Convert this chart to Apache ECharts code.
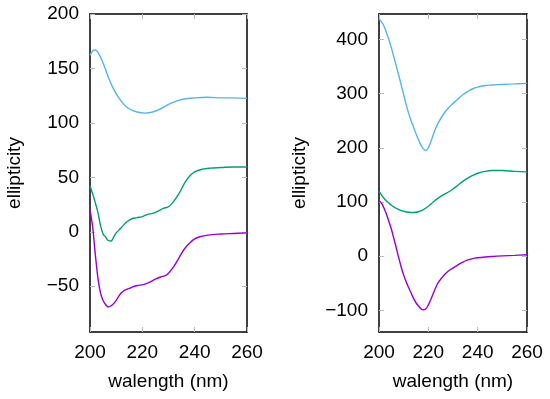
<!DOCTYPE html>
<html>
<head>
<meta charset="utf-8">
<script src="https://cdn.jsdelivr.net/npm/echarts@6/dist/echarts.min.js"></script>
<style>html,body{margin:0;padding:0;background:#fff}#c{width:550px;height:399px}</style>
</head>
<body>
<div id="c"></div>
<script>
// ---- Data ----
const xTicks = [200, 220, 240, 260];
const leftYTicks = [-50, 0, 50, 100, 150, 200];
const rightYTicks = [-100, 0, 100, 200, 300, 400];

// Left panel
const lBlueX = [200,201,202,203,205,207,209,211,213,215,218,221,224,227,230,233,236,240,245,250,255,260];
const lBlueY = [162,166,167,165,155,142,131,123,117,113,110,109,110,113,117,120,122,123,123.5,123,123,122.5];
const lGreenX = [200,201,202,203,204,205,206,207,208,209,210,212,214,216,218,220,222,224,226,228,230,232,234,236,238,240,243,246,250,255,260];
const lGreenY = [42,35,27,18,6,-2,-5,-8,-8.5,-5,-1,4,9,12,13,14,16,17,19,21.5,23,28,35,44,51,55,57.5,58.5,59,59.5,59.5];
const lPurpleX = [200,201,202,203,204,205,206,207,208,209,210,211,212,213,215,217,219,221,223,225,227,229,230,232,234,236,238,240,242,245,250,255,260];
const lPurpleY = [20,5,-20,-42,-56,-63,-67,-69,-68,-66,-63,-59,-56,-54,-52,-50,-49,-48,-46,-43.5,-41.5,-40,-38,-32,-24,-16,-10.5,-6.5,-4.5,-3,-2,-1.5,-1];

// Right panel
const rBlueX = [200,201,202,203,204,205,206,207,208,209,210,211,212,213,214,215,216,217,218,219,220,221,222,223,224,226,228,230,232,234,236,238,240,243,246,250,255,260];
const rBlueY = [437,433,425,413,400,385,368,351,334,316,298,280,264,250,238,226,215,205,198,195,200,211,224,236,246,261,273,282,290,298,304,309,312,315,316,317,318,319];
const rGreenX = [200,201,202,203,204,205,206,207,208,210,212,214,216,218,220,222,224,226,228,230,232,234,236,238,240,243,246,250,255,260];
const rGreenY = [120,113,107,102,98,94,91,88,86,83,81,80.5,82,86,92,100,107,113,118,124,131,138,144,149,153,156.5,158,158,156.5,155.5];
const rPurpleX = [200,201,202,203,204,205,206,207,208,209,210,211,212,213,214,215,216,217,218,219,220,221,222,223,224,226,228,230,232,234,236,238,240,243,246,250,255,260];
const rPurpleY = [102,98,89,78,64,50,33,15,-3,-20,-35,-47,-58,-68,-78,-86,-92,-97,-99,-97,-90,-80,-69,-58,-49,-37,-28,-22,-16,-11,-7,-4.5,-3,-1.5,-0.5,0.5,1.5,2.5];

const colPurple = '#9400d3', colGreen = '#009e73', colBlue = '#56b4e9';
const FONT = 'Liberation Sans';
const FS = 19;

function zip(xs, ys) { return xs.map((x, i) => [x, ys[i]]); }

const tickStyle = { show: true, inside: true, length: 5, lineStyle: { color: '#bbbbbb', width: 1 } };
const lineStyleAx = { show: true, onZero: false, lineStyle: { color: '#000', width: 1.5 } };
const labelStyle = { color: '#000', fontFamily: FONT, fontSize: FS };

function xAxes(gi) {
  return [
    { type: 'value', gridIndex: gi, position: 'bottom', min: 200, max: 260,
      axisLine: lineStyleAx, splitLine: { show: false },
      axisTick: Object.assign({}, tickStyle, { customValues: xTicks }),
      axisLabel: Object.assign({}, labelStyle, { customValues: xTicks, margin: 11 }),
      name: 'walength (nm)', nameLocation: 'middle', nameGap: 40,
      nameTextStyle: { color: '#000', fontFamily: FONT, fontSize: FS } },
    { type: 'value', gridIndex: gi, position: 'top', min: 200, max: 260,
      axisLine: lineStyleAx, splitLine: { show: false },
      axisTick: Object.assign({}, tickStyle, { customValues: xTicks }),
      axisLabel: { show: false } }
  ];
}
function yAxes(gi, min, max, ticks, gap) {
  return [
    { type: 'value', gridIndex: gi, position: 'left', min: min, max: max,
      axisLine: lineStyleAx, splitLine: { show: false },
      axisTick: Object.assign({}, tickStyle, { customValues: ticks }),
      axisLabel: Object.assign({}, labelStyle, { customValues: ticks, margin: 11,
        formatter: v => (v < 0 ? '\u2212' + Math.abs(v) : String(v)) }),
      name: 'ellipticity', nameLocation: 'middle', nameGap: gap, nameRotate: 90,
      nameTextStyle: { color: '#000', fontFamily: FONT, fontSize: FS } },
    { type: 'value', gridIndex: gi, position: 'right', min: min, max: max,
      axisLine: lineStyleAx, splitLine: { show: false },
      axisTick: Object.assign({}, tickStyle, { customValues: ticks }),
      axisLabel: { show: false } }
  ];
}

function ser(xi, yi, xs, ys, color) {
  return { type: 'line', xAxisIndex: xi, yAxisIndex: yi, data: zip(xs, ys),
    smooth: 0.4, showSymbol: false, symbol: 'none', clip: true,
    lineStyle: { color: color, width: 1.4 }, itemStyle: { color: color } };
}

const chart = echarts.init(document.getElementById('c'), null, { renderer: 'canvas' });
chart.setOption({
  animation: false,
  backgroundColor: '#fff',
  grid: [
    { left: 90, top: 14, width: 157, height: 318 },
    { left: 379, top: 14, width: 148, height: 318 }
  ],
  xAxis: [...xAxes(0), ...xAxes(1)],
  yAxis: [...yAxes(0, -92, 200, leftYTicks, 66), ...yAxes(1, -140, 447, rightYTicks, 70)],
  series: [
    ser(0, 0, lBlueX, lBlueY, colBlue),
    ser(0, 0, lGreenX, lGreenY, colGreen),
    ser(0, 0, lPurpleX, lPurpleY, colPurple),
    ser(2, 2, rBlueX, rBlueY, colBlue),
    ser(2, 2, rGreenX, rGreenY, colGreen),
    ser(2, 2, rPurpleX, rPurpleY, colPurple)
  ]
});
</script>
</body>
</html>
